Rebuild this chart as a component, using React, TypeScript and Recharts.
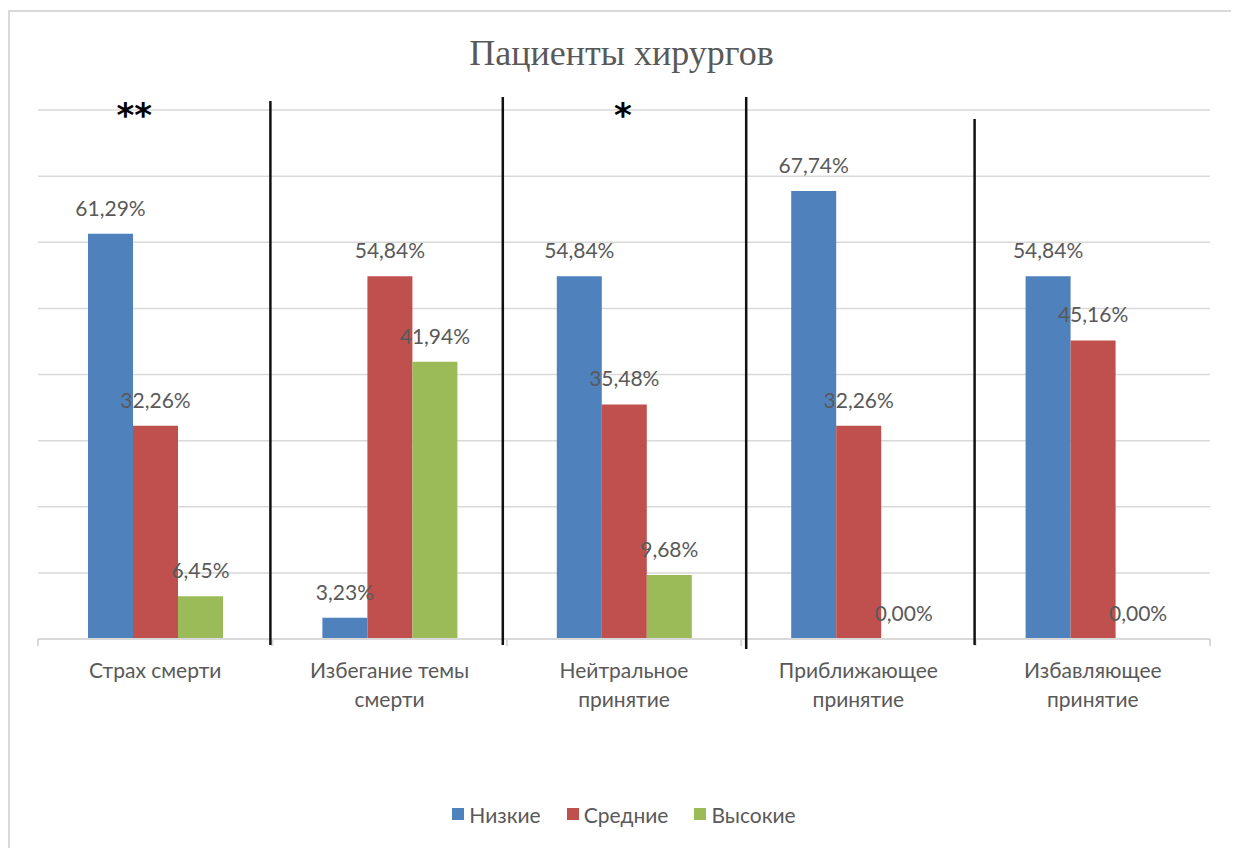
import React from 'react';
import { BarChart, Bar, XAxis, YAxis, CartesianGrid, Legend, LabelList } from 'recharts';

const categoryLines = [
  ['Страх смерти'],
  ['Избегание темы', 'смерти'],
  ['Нейтральное', 'принятие'],
  ['Приближающее', 'принятие'],
  ['Избавляющее', 'принятие'],
];
const categories = categoryLines.map((l) => l.join(' '));
const lowValues = [61.29, 3.23, 54.84, 67.74, 54.84];
const midValues = [32.26, 54.84, 35.48, 32.26, 45.16];
const highValues = [6.45, 41.94, 9.68, 0, 0];
const seriesKeys = ['low', 'mid', 'high'];
const seriesNames = ['Низкие', 'Средние', 'Высокие'];
const seriesColors = ['#4F81BD', '#C0504D', '#9BBB59'];
const yTicks = [0, 10, 20, 30, 40, 50, 60, 70, 80];
// significance marks above categories
const marks = ['**', '', '*', '', ''];

const data = categories.map((name, i) => ({
  name,
  low: lowValues[i],
  mid: midValues[i],
  high: highValues[i],
}));

const FONT = 'Lato, "Open Sans", sans-serif';
const TEXT = '#595959';
const GRID = '#d9d9d9';

const W = 1227;
const H = 846;
const margin = { top: 98, right: 27, bottom: 32, left: 28 };
const plotW = W - margin.left - margin.right;
const band = plotW / categories.length;
const baseY = 627;

// hand-drawn separators between groups (nudge from boundary, top, bottom)
const separators = [
  { dx: -2, top: 89, bottom: 633 },
  { dx: -4, top: 85, bottom: 633 },
  { dx: 5, top: 85, bottom: 637 },
  { dx: -1, top: 107, bottom: 633 },
];
const markNudge = [-21, 0, -1, 0, 0];

const fmt = (v: number) => v.toFixed(2).replace('.', ',') + '%';

const CategoryTick = ({ x, y, index }: any) => (
  <text x={x} y={y} textAnchor="middle" fill={TEXT} fontSize={21} fontFamily={FONT}>
    {categoryLines[index].map((line, j) => (
      <tspan key={j} x={x} dy={j === 0 ? 15 : 29}>
        {line}
      </tspan>
    ))}
  </text>
);

const ValueLabel = ({ x, y, width, height, value }: any) => {
  const top = Math.min(Number(y), Number(y) + Number(height));
  return (
    <text x={Number(x) + Number(width) / 2} y={top - 18} textAnchor="middle" fill={TEXT} fontSize={21} fontFamily={FONT}>
      {fmt(Number(value))}
    </text>
  );
};

const renderLegend = () => (
  <div style={{ display: 'flex', justifyContent: 'center', height: 24, alignItems: 'center', fontFamily: FONT, fontSize: 21, color: TEXT }}>
    {seriesNames.map((n, i) => (
      <div key={n} style={{ display: 'flex', alignItems: 'center', marginRight: i < seriesNames.length - 1 ? 26 : 0 }}>
        <span style={{ width: 12, height: 12, background: seriesColors[i], marginRight: 5, display: 'inline-block' }} />
        <span>{n}</span>
      </div>
    ))}
  </div>
);

export default function App() {
  return (
    <div
      style={{
        position: 'relative',
        top: 2,
        width: 1231,
        height: 860,
        border: `2px solid ${GRID}`,
        boxSizing: 'border-box',
        background: '#fff',
        fontFamily: FONT,
      }}
    >
      <BarChart width={W} height={H} data={data} margin={margin} barGap={0} barSize={45}>
        <CartesianGrid vertical={false} stroke={GRID} strokeWidth={1.5} />
        <YAxis hide domain={[0, 80]} ticks={yTicks} />
        <XAxis
          dataKey="name"
          interval={0}
          height={163}
          tickLine={false}
          tickMargin={18}
          axisLine={{ stroke: GRID, strokeWidth: 2 }}
          tick={<CategoryTick />}
        />
        <Legend verticalAlign="bottom" content={renderLegend} />
        {seriesKeys.map((k, i) => (
          <Bar
            key={k}
            dataKey={k}
            name={seriesNames[i]}
            fill={seriesColors[i]}
            minPointSize={0.01}
            isAnimationActive={false}
          >
            <LabelList dataKey={k} content={<ValueLabel />} />
          </Bar>
        ))}
      </BarChart>
      <svg width={W} height={H} style={{ position: 'absolute', left: 0, top: 0, pointerEvents: 'none' }}>
        <text x={W / 2 - 2} y={53} textAnchor="middle" fontFamily='"Liberation Serif", "Times New Roman", serif' fontSize={36} fill={TEXT}>
          Пациенты хирургов
        </text>
        {Array.from({ length: categories.length + 1 }, (_, i) => (
          <line key={'t' + i} x1={margin.left + band * i} x2={margin.left + band * i} y1={baseY} y2={baseY + 7} stroke={GRID} strokeWidth={2} />
        ))}
        {separators.map((s, i) => {
          const x = margin.left + band * (i + 1) + s.dx;
          return <line key={'s' + i} x1={x} x2={x} y1={s.top} y2={s.bottom} stroke="#111" strokeWidth={2.5} />;
        })}
        {marks.map((m, i) =>
          m ? (
            <text
              key={'m' + i}
              x={margin.left + band * (i + 0.5) + markNudge[i]}
              y={115}
              textAnchor="middle"
              fontFamily='"DejaVu Sans", sans-serif'
              fontWeight="bold"
              fontSize={34}
              fill="#000"
            >
              {m}
            </text>
          ) : null
        )}
      </svg>
    </div>
  );
}
